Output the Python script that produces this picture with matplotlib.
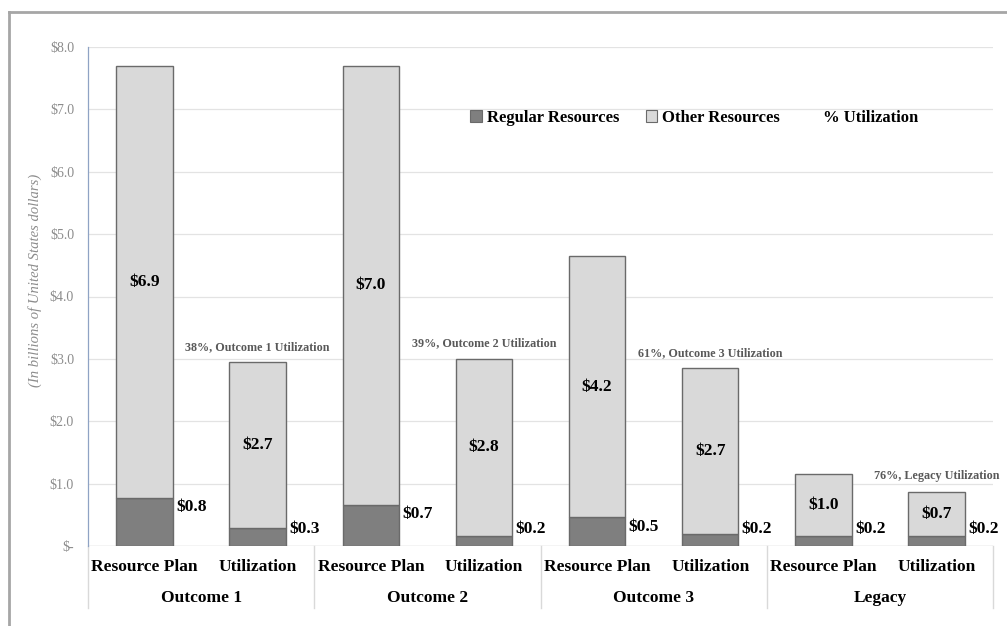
import numpy as np
import matplotlib
matplotlib.use('Agg')
import matplotlib.pyplot as plt
from matplotlib.patches import Patch
from matplotlib.lines import Line2D
import matplotlib.transforms as mtransforms

plt.rcParams['font.family'] = ['Liberation Serif', 'DejaVu Serif']

# data
categories = ['Resource Plan', 'Utilization'] * 4
groups = ['Outcome 1', 'Outcome 2', 'Outcome 3', 'Legacy']
regular = [0.77, 0.29, 0.66, 0.16, 0.46, 0.19, 0.16, 0.16]
other = [6.93, 2.66, 7.04, 2.84, 4.19, 2.66, 0.99, 0.71]
pct = [38, 39, 61, 76]
pct_names = ['Outcome 1', 'Outcome 2', 'Outcome 3', 'Legacy']
yticks = [0, 1, 2, 3, 4, 5, 6, 7, 8]

dark = '#7f7f7f'
light = '#d9d9d9'
edge = '#6a6a6a'

fig = plt.figure(figsize=(10.07, 6.26), dpi=100)
ax = fig.add_axes([88 / 1007, 1 - 546 / 626, 905 / 1007, 499 / 626])

x = np.arange(len(categories))
reg = np.array(regular)
oth = np.array(other)
ax.bar(x, reg, width=0.5, color=dark, edgecolor=edge, linewidth=1, zorder=3)
ax.bar(x, oth, width=0.5, bottom=reg, color=light, edgecolor=edge, linewidth=1, zorder=3)

# value labels
for i in range(len(x)):
    ax.text(x[i], reg[i] + oth[i] / 2, f'${oth[i]:.1f}', ha='center', va='center',
            fontsize=12.5, fontweight='bold', color='black', zorder=4)
    ax.text(x[i] + 0.28, max(reg[i] - 0.15, 0.27), f'${reg[i]:.1f}', ha='left', va='center',
            fontsize=12.5, fontweight='bold', color='black', zorder=4)

# % utilization labels above utilization bars
for g in range(len(groups)):
    i = 2 * g + 1
    ax.annotate(f'{pct[g]}%, {pct_names[g]} Utilization', (x[i], reg[i] + oth[i]),
                xytext=(0, 11), textcoords='offset points', ha='center', va='center',
                fontsize=8.7, fontweight='bold', color='#595959', zorder=4)

ax.set_xlim(-0.5, 7.5)
ax.set_ylim(0, 8)
ax.set_yticks(yticks)
ax.set_yticklabels(['$-'] + [f'${v:.1f}' for v in yticks[1:]])
ax.tick_params(axis='y', length=0, pad=10, labelsize=10, labelcolor='#8c8c8c')
ax.set_xticks([])
ax.grid(axis='y', color='#e3e3e3', linewidth=0.9, zorder=0)
for s in ['top', 'right', 'bottom']:
    ax.spines[s].set_visible(False)
ax.spines['left'].set_color('#8fa3c4')
ax.spines['left'].set_linewidth(0.9)
ax.axhline(0, color='#d9d9d9', linewidth=1, zorder=2)

ax.set_ylabel('(In billions of United States dollars)', fontsize=10.5, style='italic',
              color='#8c8c8c')
ax.yaxis.set_label_coords(-0.051, 0.533)

# category and group labels below the axis
trans = mtransforms.blended_transform_factory(ax.transData, ax.transAxes)
for i, c in enumerate(categories):
    ax.text(x[i], -0.042, c, transform=trans, ha='center', va='center',
            fontsize=12.5, fontweight='bold')
for g, name in enumerate(groups):
    ax.text(2 * g + 0.5, -0.104, name, transform=trans, ha='center', va='center',
            fontsize=12.5, fontweight='bold')
for b in [-0.5, 1.5, 3.5, 5.5, 7.5]:
    ax.plot([b, b], [0, -0.124], transform=trans, color='#d9d9d9', linewidth=1, clip_on=False)

# legend
handles = [Patch(facecolor=dark, edgecolor=edge, linewidth=0.8),
           Patch(facecolor=light, edgecolor=edge, linewidth=0.8),
           Line2D([], [], linestyle='none')]
fig.legend(handles, ['Regular Resources', 'Other Resources', '% Utilization'],
           loc='center left', bbox_to_anchor=(455 / 1007, 1 - 118 / 626), ncol=3,
           frameon=False, handlelength=0.7, handleheight=0.7, handletextpad=0.3,
           columnspacing=1.6, prop={'weight': 'bold', 'size': 12})

# outer frame (top and left edges visible)
fig.add_artist(Line2D([9 / 1007, 9 / 1007], [0, 1 - 12 / 626], color='#a6a6a6', linewidth=2))
fig.add_artist(Line2D([9 / 1007, 1], [1 - 12 / 626, 1 - 12 / 626], color='#a6a6a6', linewidth=2))

fig.savefig('out.png', dpi=100)
